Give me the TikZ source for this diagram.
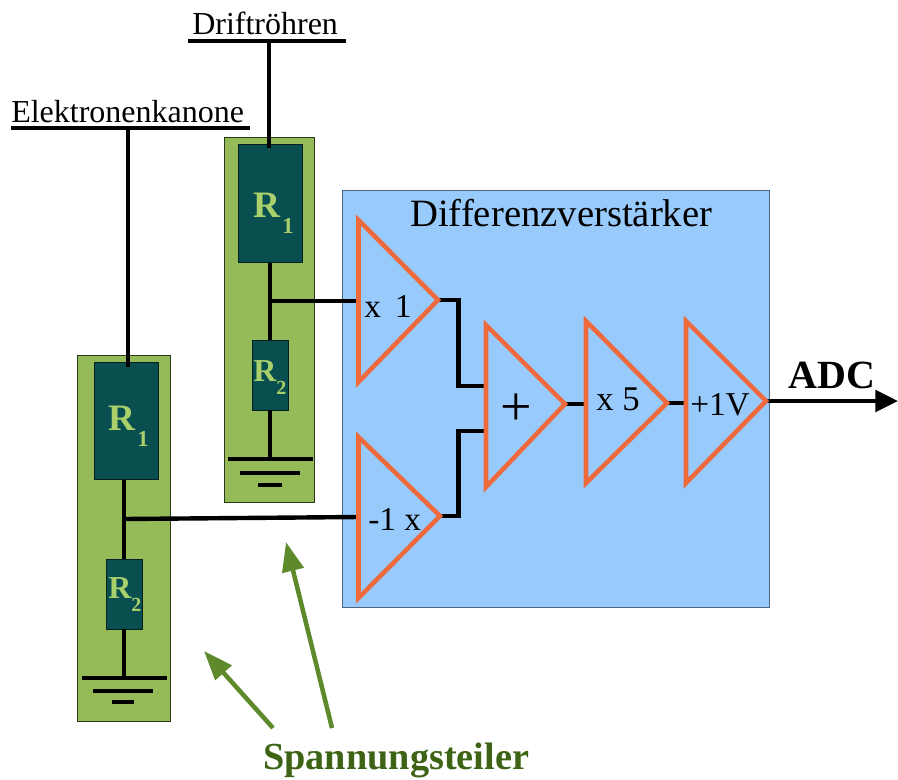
\documentclass[tikz,border=0pt]{standalone}
\usepackage{fontspec}
\setmainfont{Liberation Serif}
\usetikzlibrary{arrows.meta}

\definecolor{boxgreen}{HTML}{95BA58}
\definecolor{boxdark}{HTML}{0A4F50}
\definecolor{ampblue}{HTML}{99CAFC}
\definecolor{amporange}{HTML}{EE6A3C}
\definecolor{rtext}{HTML}{A9D06A}
\definecolor{arrowgreen}{HTML}{5F8A2C}
\definecolor{textgreen}{HTML}{3D6314}

\tikzset{
  wire/.style={line width=3.3pt, black},
  amp/.style={line width=3.4pt, amporange, line join=miter},
  divbox/.style={draw=black!70!boxgreen, fill=boxgreen, line width=0.7pt},
  rbig/.style={draw=black!60!boxdark, fill=boxdark, line width=0.6pt, inner sep=0pt, minimum width=48pt, minimum height=88pt},
  rsmall/.style={draw=black!60!boxdark, fill=boxdark, line width=0.6pt, inner sep=0pt, minimum width=27pt, minimum height=52.5pt},
  txt/.style={anchor=base west, inner sep=0pt, black},
  hint/.style={-{Triangle[length=22pt,width=16pt]}, line width=3.4pt, arrowgreen}
}
\newcommand{\rbigtext}[1]{\textcolor{rtext}{\fontsize{28}{28}\selectfont\bfseries R\raisebox{-12pt}{\fontsize{17}{17}\selectfont\hspace{0.1em}#1}}}
\newcommand{\rsmalltext}[1]{\textcolor{rtext}{\fontsize{24}{24}\selectfont\bfseries R\raisebox{-10pt}{\fontsize{15}{15}\selectfont #1}}}

\begin{document}
\begin{tikzpicture}[x=0.75pt,y=-0.75pt]
\useasboundingbox (0,0) rectangle (898,779);

% backgrounds
\draw[divbox] (224,137) rectangle (314,502);
\draw[divbox] (77,355) rectangle (170,721);
\draw[draw=black!50!ampblue, fill=ampblue, line width=0.7pt] (342,190) rectangle (769.5,607.5);

% resistors
\node[rbig] (R1d) at (270.5,203.5) {};
\node[rsmall] (R2d) at (270,375) {};
\node[rbig] (R1e) at (126.5,421) {};
\node[rsmall] (R2e) at (124,594) {};
\node[txt] (R1dtext) at (253,217) {\rbigtext{1}};
\node[txt] (R2dtext) at (253,381) {\rsmalltext{2}};
\node[txt] (R1etext) at (108,430) {\rbigtext{1}};
\node[txt] (R2etext) at (108,598) {\rsmalltext{2}};

\coordinate (Dtop) at (269,41);
\coordinate (Dend) at (269,148);
\coordinate (Etop) at (128,128);
\coordinate (Eend) at (128,367);
\coordinate (Jd) at (270,301);
\coordinate (Je) at (124,519);
\coordinate (Gd) at (270,459);
\coordinate (Ge) at (124,678);

% amplifiers
\coordinate (A1in) at (358,301);
\coordinate (A1out) at (438,300);
\coordinate (A2in) at (358,517);
\coordinate (A2out) at (440,516);
\coordinate (A3up) at (486,386);
\coordinate (A3dn) at (486,431);
\coordinate (A3out) at (565,404);
\coordinate (A4in) at (586,404);
\coordinate (A4out) at (667,403);
\coordinate (A5in) at (686,403);
\coordinate (A5out) at (766,401);
\coordinate (Out) at (898,401);

\draw[wire] (Dtop) -- (Dend);
\draw[wire] (Etop) -- (Eend);
\draw[wire] (R1d.south -| Jd) -- (R2d.north -| Jd);
\draw[wire] (R1e.south -| Je) -- (R2e.north -| Je);
\draw[wire] (R2d.south -| Gd) -- (Gd);
\draw[wire] (R2e.south -| Ge) -- (Ge);
\draw[wire] (Jd) -- (A1in);
\draw[wire] (Je) -- (A2in);
\draw[wire] (A1out) -| (458.5,386) -- (A3up);
\draw[wire] (A2out) -| (458.5,431) -- (A3dn);
\draw[wire] (A3out) -- (A4in);
\draw[wire] (A4out) -- (A5in);
\draw[-{Triangle[length=17pt,width=16pt]}, wire] (A5out) -- (Out);

\draw[amp] (358.5,220) -- (A1out) -- (358.5,382) -- cycle;
\draw[amp] (358.5,437) -- (A2out) -- (358.5,598) -- cycle;
\draw[amp] (486,325) -- (A3out) -- (486,487) -- cycle;
\draw[amp] (586,321) -- (A4out) -- (586,483) -- cycle;
\draw[amp] (686,321) -- (A5out) -- (686,483) -- cycle;

% ground bars
\draw[wire] (228,459) -- (313,459);
\draw[wire] (240,473) -- (300,473);
\draw[wire] (258,485) -- (282,485);
\draw[wire] (82,678) -- (167,678);
\draw[wire] (93,691) -- (153,691);
\draw[wire] (112,702) -- (134,702);

% labels
\node[txt, font=\fontsize{24}{24}\selectfont] (drift) at (192,34) {Driftröhren};
\draw[wire] (188,41) -- (346,41);
\node[txt, font=\fontsize{24}{24}\selectfont] (kanone) at (11,122) {Elektronenkanone};
\draw[wire] (11,128) -- (250,128);
\node[txt, font=\fontsize{29}{29}\selectfont] (diff) at (410,226) {Differenzverstärker};
\node[txt, font=\fontsize{25}{25}\selectfont] (gain1) at (364,317) {x\hspace{0.42em}1};
\node[txt, font=\fontsize{25}{25}\selectfont] (gain2) at (368,530) {-1 x};
\node[font=\fontsize{42}{42}\selectfont, inner sep=0pt] (plus) at (516,410) {+};
\node[txt, font=\fontsize{26}{26}\selectfont] (gain3) at (596,410) {x 5};
\node[txt, font=\fontsize{25}{25}\selectfont] (offset) at (690,415) {+1V};
\node[txt, font=\fontsize{30}{30}\selectfont\bfseries] (adc) at (788,388) {ADC};
\node[txt, textgreen, font=\fontsize{28.7}{29}\selectfont\bfseries] (teiler) at (263,769) {Spannungsteiler};

\coordinate (Ha) at (273,728);
\coordinate (Hb) at (332,728);
\coordinate (Ta) at (204,651);
\coordinate (Tb) at (286,542);
\draw[hint] (Ha) -- (Ta);
\draw[hint] (Hb) -- (Tb);
\end{tikzpicture}
\end{document}
